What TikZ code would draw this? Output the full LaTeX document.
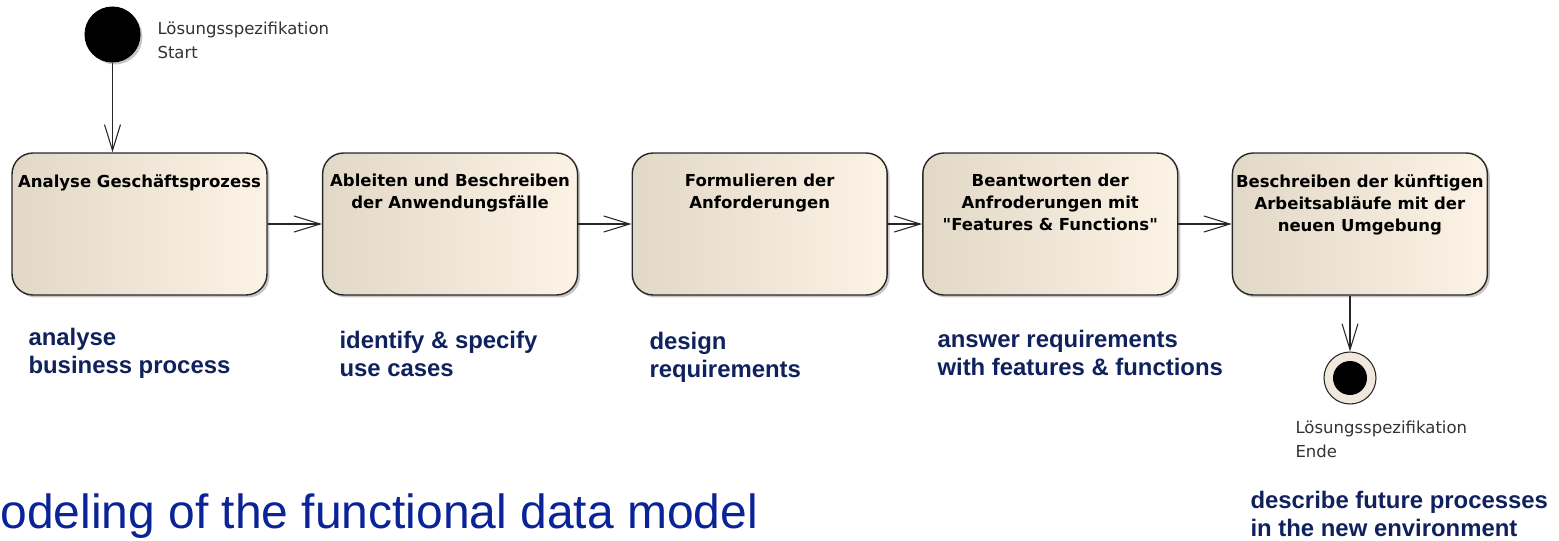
\documentclass[tikz,border=0pt]{standalone}
\usepackage{fontspec}
\usepackage{tikz}
\usetikzlibrary{positioning}
\usetikzlibrary{arrows.meta}
\usetikzlibrary{shadows}
\newfontfamily\umlfont{DejaVu Sans}
\newfontfamily\notefont{Liberation Sans}
\definecolor{boxleft}{RGB}{226,216,199}
\definecolor{boxright}{RGB}{252,243,230}
\definecolor{boxline}{RGB}{40,40,40}
\definecolor{notenavy}{RGB}{16,34,94}
\definecolor{titleblue}{RGB}{10,35,150}
\definecolor{endfill}{RGB}{240,232,220}
\tikzset{every picture/.style={line width=0.6pt}}
\tikzset{
  actbox/.style={rectangle, rounded corners=0.42cm, draw=boxline, line width=0.8pt, left color=boxleft, right color=boxright,
    minimum width=5.1cm, minimum height=2.84cm,
    drop shadow={shadow xshift=0.05cm, shadow yshift=-0.05cm, opacity=1, fill=black!22}},
  acttext/.style={anchor=north, inner sep=0pt, align=center, text=black,
    font=\umlfont\bfseries\fontsize{9.4}{12.5}\selectfont},
  flow/.style={draw=black!85, -{Straight Barb[length=0.52cm, width=0.32cm]}},
  navynote/.style={anchor=north west, inner sep=0pt, align=left, text=notenavy,
    font=\notefont\bfseries\fontsize{13.6}{16}\selectfont},
  statelabel/.style={anchor=north west, inner sep=0pt, align=left, text=black!80,
    font=\umlfont\fontsize{9.4}{13.6}\selectfont},
  startdot/.style={circle, fill=black, draw=black, minimum size=1.1cm, inner sep=0pt,
    drop shadow={shadow xshift=0.05cm, shadow yshift=-0.05cm, opacity=1, fill=black!22}},
  finring/.style={circle, fill=endfill, draw=black!85, minimum size=1.04cm, inner sep=0pt},
  findot/.style={circle, fill=black, minimum size=0.68cm, inner sep=0pt}
}

\begin{document}
\begin{tikzpicture}[x=0.02cm, y=-0.02cm]
\path[use as bounding box, fill=white] (0,0) rectangle (1559,541);

% start and end states
\node (start) [startdot] at (112.5,34.5) {};
\node (startlbl) [statelabel] at (157,21.5) {Lösungsspezifikation\\Start};
\node (fin) [finring] at (1350,378) {};
\node (findot) [findot] at (fin) {};
\node (finlbl) [statelabel] at (1295,420.4) {Lösungsspezifikation\\Ende};

% activities
\node (b1) [actbox] at (139.5,224) {};
\node (b2) [actbox, right=1.085cm of b1] {};
\node (b3) [actbox, right=1.065cm of b2] {};
\node (b4) [actbox, right=0.685cm of b3] {};
\node (b5) [actbox, right=1.065cm of b4] {};

\node (t1) [acttext] at ([yshift=-0.43cm]b1.north) {Analyse Geschäftsprozess};
\node (t2) [acttext] at ([yshift=-0.43cm]b2.north) {Ableiten und Beschreiben\\der Anwendungsfälle};
\node (t3) [acttext] at ([yshift=-0.43cm]b3.north) {Formulieren der\\Anforderungen};
\node (t4) [acttext] at ([yshift=-0.43cm]b4.north) {Beantworten der\\Anfroderungen mit\\"Features \& Functions"};
\node (t5) [acttext] at ([yshift=-0.43cm]b5.north) {Beschreiben der künftigen\\Arbeitsabläufe mit der\\neuen Umgebung};

% flow
\draw[flow] (start) -- (start |- b1.north);
\draw[flow] (b1) -- (b2);
\draw[flow] (b2) -- (b3);
\draw[flow] (b3) -- (b4);
\draw[flow] (b4) -- (b5);
\draw[flow] (b5.south -| fin) -- (fin);

% english notes
\node (n1) [navynote] at (28,328) {analyse\\business process};
\node (n2) [navynote] at (339,331) {identify \& specify\\use cases};
\node (n3) [navynote] at (649,332) {design\\requirements};
\node (n4) [navynote] at (937,330) {answer requirements\\with features \& functions};
\node (n5) [navynote] at (1250,491) {describe future processes\\in the new environment};

\node (title) [anchor=base west, inner sep=0pt, text=titleblue, font=\notefont\fontsize{27.3}{32}\selectfont]
  at (0,528) {odeling of the functional data model};
\end{tikzpicture}
\end{document}
